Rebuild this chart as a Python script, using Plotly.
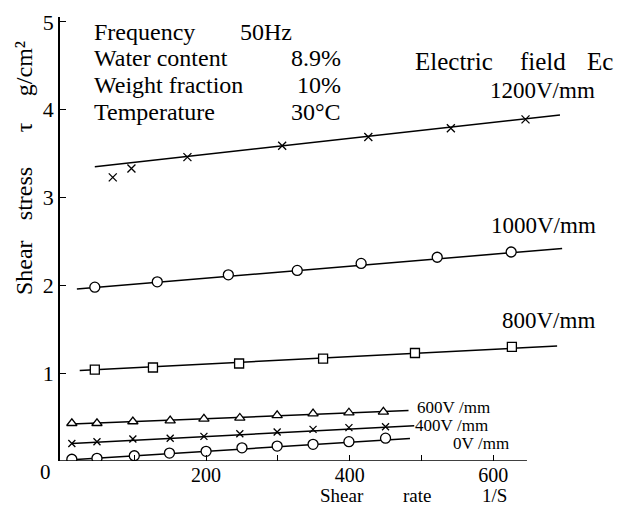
import plotly.graph_objects as go

# ---------------- data ----------------
x1200 = [70, 96, 174, 306, 426, 541, 645]
y1200 = [3.23, 3.33, 3.46, 3.59, 3.69, 3.79, 3.89]
fit1200_x = [45, 693]
fit1200_y = [3.35, 3.94]

x1000 = [45, 132, 231, 327, 416, 522, 625]
y1000 = [1.98, 2.04, 2.12, 2.17, 2.25, 2.32, 2.38]
fit1000_x = [20, 696]
fit1000_y = [1.96, 2.42]

x800 = [45, 126, 246, 363, 491, 626]
y800 = [1.04, 1.065, 1.11, 1.165, 1.23, 1.30]
fit800_x = [24, 689]
fit800_y = [1.03, 1.31]

x600 = [13, 48, 98, 150, 197, 247, 299, 349, 399, 447]
y600 = [0.43, 0.43, 0.45, 0.46, 0.48, 0.49, 0.52, 0.54, 0.55, 0.56]
fit600_x = [13, 482]
fit600_y = [0.42, 0.575]

x400 = [13, 48, 98, 150, 197, 247, 299, 349, 399, 450]
y400 = [0.20, 0.22, 0.25, 0.26, 0.28, 0.31, 0.33, 0.36, 0.38, 0.39]
fit400_x = [13, 490]
fit400_y = [0.20, 0.40]

x0 = [13, 48, 100, 149, 200, 250, 299, 349, 399, 450]
y0 = [0.02, 0.03, 0.06, 0.09, 0.11, 0.15, 0.17, 0.19, 0.22, 0.26]
fit0_x = [13, 484]
fit0_y = [0.015, 0.255]

x_tickvals = [100, 200, 300, 400, 500, 600]
x_ticktext = ["", "200", "", "400", "", "600"]
y_tickvals = [1, 2, 3, 4, 5]
y_ticktext = ["1", "2", "3", "4", "5"]

# ---------------- layout geometry ----------------
W, H = 624, 506
L, R, T, B = 60, 59, 10, 45
XR = [-3.5, 700]
YR = [0, (H - T - B) / 89.2]
PW = W - L - R
PH = H - T - B


def px2x(px):
    return XR[0] + (px - L) / PW * (XR[1] - XR[0])


def py2y(py):
    return YR[0] + (H - B - py) / PH * (YR[1] - YR[0])


def px2paper(px):
    return (px - L) / PW


def py2paper(py):
    return (H - B - py) / PH


FONT = "Liberation Serif"
fig = go.Figure()

series = [
    (x1200, y1200, fit1200_x, fit1200_y, "x-thin", 8),
    (x1000, y1000, fit1000_x, fit1000_y, "circle", 10),
    (x800, y800, fit800_x, fit800_y, "square", 9),
    (x600, y600, fit600_x, fit600_y, "triangle-up", 9),
    (x400, y400, fit400_x, fit400_y, "x-thin", 7),
    (x0, y0, fit0_x, fit0_y, "circle", 10),
]

for xs, ys, fx, fy, sym, sz in series:
    fig.add_trace(go.Scatter(x=fx, y=fy, mode="lines",
                             line=dict(color="black", width=1.5),
                             showlegend=False, hoverinfo="skip"))
    col = "black" if sym.startswith("x") else "white"
    fig.add_trace(go.Scatter(x=xs, y=ys, mode="markers",
                             marker=dict(symbol=sym, size=sz, color=col,
                                         line=dict(color="black", width=1.3)),
                             showlegend=False))

# x axis line (stops short of the right)
fig.add_shape(type="line", xref="x", yref="y", x0=XR[0], x1=647, y0=0, y1=0,
              line=dict(color="black", width=1.5))

fig.update_layout(
    width=W, height=H,
    margin=dict(l=L, r=R, t=T, b=B),
    paper_bgcolor="white", plot_bgcolor="white",
    font=dict(family=FONT, color="black", size=20),
    xaxis=dict(range=XR, showgrid=False, zeroline=False, showline=False,
               tickmode="array", tickvals=x_tickvals, ticktext=x_ticktext,
               ticks="inside", ticklen=6, tickcolor="black", tickwidth=1,
               tickfont=dict(family=FONT, size=20, color="black")),
    yaxis=dict(range=YR, showgrid=False, zeroline=False, showline=True,
               linecolor="black", linewidth=1.5,
               tickmode="array", tickvals=y_tickvals, ticktext=y_ticktext,
               ticks="inside", ticklen=6, tickcolor="black", tickwidth=1,
               tickfont=dict(family=FONT, size=22, color="black")),
)

NB = "\u00a0"
ann = []


def txt(text, px, py, anchor="left", size=22, xref="x", angle=0):
    if xref == "x":
        ann.append(dict(text=text, x=px2x(px), y=py2y(py), xref="x", yref="y",
                        xanchor=anchor, yanchor="middle", showarrow=False,
                        textangle=angle,
                        font=dict(family=FONT, size=size, color="black")))
    else:
        ann.append(dict(text=text, x=px2paper(px), y=py2paper(py), xref="paper",
                        yref="paper", xanchor=anchor, yanchor="middle",
                        showarrow=False, textangle=angle,
                        font=dict(family=FONT, size=size, color="black")))


# condition block
txt("Frequency", 92, 25, size=24)
txt("50Hz", 238, 25, size=24)
txt("Water" + NB + "content", 92, 52, size=24)
txt("8.9%", 343, 52, anchor="right", size=24)
txt("Weight" + NB + "fraction", 92, 79, size=24)
txt("10%", 343, 79, anchor="right", size=24)
txt("Temperature", 92, 107, size=24)
txt("30°C", 343, 107, anchor="right", size=24)

# series labels
txt("Electric", 413, 55, size=25, xref="paper")
txt("field", 518, 55, size=25, xref="paper")
txt("Ec", 585, 55, size=25, xref="paper")
txt("1200V/mm", 488, 85, size=23)
txt("1000V/mm", 489, 222, size=23)
txt("800V/mm", 500, 318, size=23)
txt("600V" + NB + "/mm", 415, 407, size=17)
txt("400V" + NB + "/mm", 413, 425, size=17)
txt("0V" + NB + "/mm", 511, 443, anchor="right", size=17)

# origin label and x-axis title
txt("0", 45, 472, anchor="center", size=21, xref="paper")
txt("Shear", 342, 496, anchor="center", size=19, xref="paper")
txt("rate", 417, 496, anchor="center", size=19, xref="paper")
txt("1/S", 494, 496, anchor="center", size=19, xref="paper")

# y-axis title pieces (rotated)
txt("Shear", 24, 265, anchor="center", size=24, xref="paper", angle=-90)
txt("stress", 24, 190, anchor="center", size=24, xref="paper", angle=-90)
txt("τ", 24, 122, anchor="center", size=24, xref="paper", angle=-90)
txt("g/cm²", 24, 63, anchor="center", size=24, xref="paper", angle=-90)

fig.update_layout(annotations=ann)
fig.write_html("out.html")
